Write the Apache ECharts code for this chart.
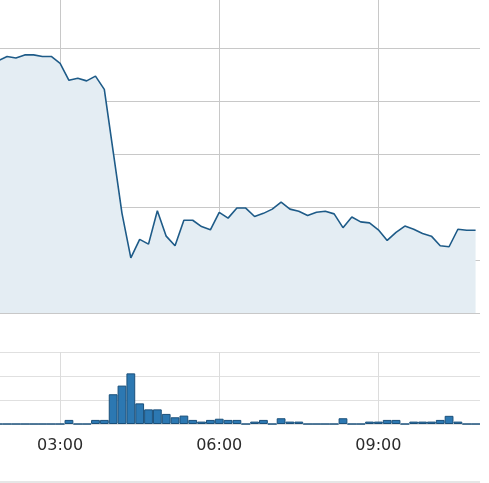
<!DOCTYPE html>
<html>
<head>
<meta charset="utf-8">
<script src="https://cdn.jsdelivr.net/npm/echarts@6/dist/echarts.min.js"></script>
<style>
html,body{margin:0;padding:0;background:#fff;}
#c{width:489px;height:483px;}
</style>
</head>
<body>
<div id="c"></div>
<script>
// 10-minute time slots
var times = ['01:50','02:00','02:10','02:20','02:30','02:40','02:50',
  '03:00','03:10','03:20','03:30','03:40','03:50',
  '04:00','04:10','04:20','04:30','04:40','04:50',
  '05:00','05:10','05:20','05:30','05:40','05:50',
  '06:00','06:10','06:20','06:30','06:40','06:50',
  '07:00','07:10','07:20','07:30','07:40','07:50',
  '08:00','08:10','08:20','08:30','08:40','08:50',
  '09:00','09:10','09:20','09:30','09:40','09:50',
  '10:00','10:10','10:20','10:30','10:40','10:50'];
var lineValues = [47.6,48.4,48.1,48.7,48.7,48.4,48.4,
  47.1,43.9,44.3,43.8,44.7,42.2,
  30.5,18.8,10.4,13.9,13.0,19.3,
  14.5,12.7,17.5,17.5,16.3,15.7,
  19.0,17.9,19.8,19.8,18.2,18.8,
  19.6,20.9,19.6,19.2,18.4,19.0,
  19.2,18.7,16.1,18.1,17.2,17.0,
  15.7,13.7,15.2,16.4,15.8,15.0,
  14.5,12.7,12.5,15.8,15.6,15.6];
var barValues = [0,0,0,0,0,0,0,
  0,1.7,0,0,1.7,1.7,
  12.4,16,21.1,8.6,6.1,6.1,
  4.2,2.8,3.5,1.7,1.0,1.7,
  2.2,1.7,1.7,0,1.0,1.7,
  0,2.4,1.0,1.0,0,0,
  0,0,2.4,0,0,1.0,
  1.0,1.7,1.7,0,1.0,1.0,
  1.0,1.7,3.4,1.0,0,0];
var xMin = 0, xMax = 655, xStep = 180; // minutes of day

function toMin(s){ var p = s.split(':'); return (+p[0])*60 + (+p[1]); }
function fmt(v){ var h = Math.floor(v/60), m = Math.round(v%60); return (h<10?'0':'')+h+':'+(m<10?'0':'')+m; }

var lineData = times.map(function(t,i){ return [toMin(t), lineValues[i]]; });
var barData = times.map(function(t,i){ return [toMin(t), barValues[i]]; });

var chart = echarts.init(document.getElementById('c'), null, {renderer:'canvas'});
var vColors = ['#c8c8c8','#c8c8c8','#c8c8c8','#c8c8c8','rgba(0,0,0,0)'];
var vColors2 = ['#dcdcdc','#dcdcdc','#dcdcdc','#dcdcdc','rgba(0,0,0,0)'];
chart.setOption({
  animation:false,
  backgroundColor:'#ffffff',
  grid:[
    {left:-99, right:9, top:-5, bottom:170, outerBoundsMode:'none', containLabel:false},
    {left:-99, right:9, top:352, bottom:59, outerBoundsMode:'none', containLabel:false}
  ],
  xAxis:[
    {type:'value', gridIndex:0, min:xMin, max:xMax, interval:xStep,
     axisLine:{show:false}, axisTick:{show:false}, axisLabel:{show:false},
     splitLine:{show:true, lineStyle:{color:vColors, width:1}}},
    {type:'value', gridIndex:1, min:xMin, max:xMax, interval:xStep,
     axisLine:{show:false}, axisTick:{show:false},
     axisLabel:{show:true, showMaxLabel:false, formatter:fmt, margin:14,
       fontFamily:'DejaVu Sans', fontSize:16, color:'#2b2b2b'},
     splitLine:{show:true, lineStyle:{color:vColors2, width:1}}}
  ],
  yAxis:[
    {type:'value', gridIndex:0, min:0, max:60, interval:10,
     axisLine:{show:false}, axisTick:{show:false}, axisLabel:{show:false},
     splitLine:{show:true, lineStyle:{color:'#c8c8c8', width:1}}},
    {type:'value', gridIndex:1, min:0, max:30, interval:10,
     axisLine:{show:false}, axisTick:{show:false}, axisLabel:{show:false},
     splitLine:{show:true, lineStyle:{color:'#e0e0e0', width:1}}}
  ],
  series:[
    {type:'line', xAxisIndex:0, yAxisIndex:0, data:lineData,
     showSymbol:false, symbol:'none', smooth:false,
     lineStyle:{color:'#1e5b88', width:1.6},
     areaStyle:{color:'#e4edf3', opacity:1}},
    {type:'bar', xAxisIndex:1, yAxisIndex:1, data:barData,
     barWidth:8.8,
     itemStyle:{color:'#2c78b2', borderColor:'#1b507a', borderWidth:1}}
  ],
  graphic:[
    {type:'rect', left:0, top:481, shape:{width:480, height:2}, style:{fill:'#e6e6e6'}, silent:true}
  ]
});
</script>
</body>
</html>
